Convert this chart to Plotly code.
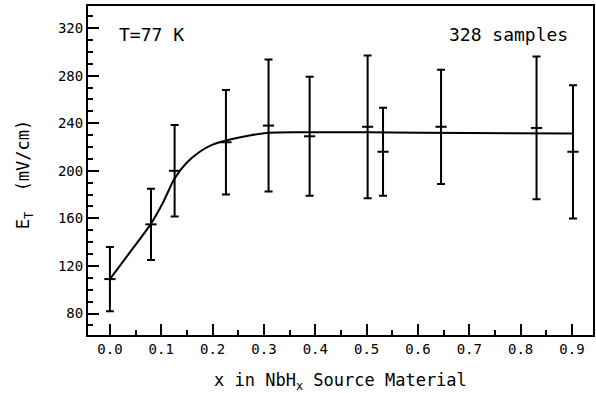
import plotly.graph_objects as go

# Measured data points (x in NbHx, E_T mean, error half-width)
x_pts = [0.0, 0.08, 0.126, 0.226, 0.309, 0.389, 0.502, 0.532, 0.645, 0.831, 0.902]
e_mean = [109, 155, 200, 224, 238, 229, 237, 216, 237, 236, 216]
e_err = [27, 30, 38.5, 44, 55.5, 50, 60, 37, 48, 60, 56]

# Fitted curve
curve_x = [0.0, 0.039, 0.079, 0.103, 0.126, 0.149, 0.175, 0.2, 0.226, 0.272, 0.31, 0.369, 0.5, 0.7, 0.9]
curve_y = [109, 131.5, 155, 173, 193.5, 206.5, 216, 222, 225.5, 229.7, 232, 232.5, 232.3, 231.8, 231.3]

x_ticks = [0.0, 0.1, 0.2, 0.3, 0.4, 0.5, 0.6, 0.7, 0.8, 0.9]
y_ticks = [80, 120, 160, 200, 240, 280, 320]

FONT = "DejaVu Sans Mono"

fig = go.Figure()
fig.add_trace(go.Scatter(x=curve_x, y=curve_y, mode="lines",
                         line=dict(color="black", width=2, shape="spline", smoothing=0.8),
                         hoverinfo="skip", showlegend=False))
fig.add_trace(go.Scatter(x=x_pts, y=e_mean, mode="markers",
                         marker=dict(symbol="line-ew", size=8, line=dict(color="black", width=2)),
                         error_y=dict(type="data", array=e_err, visible=True,
                                      color="black", thickness=2, width=4),
                         showlegend=False))

axis_common = dict(showline=True, linecolor="black", linewidth=2, mirror=True,
                   ticks="inside", tickcolor="black", tickwidth=2, ticklen=11,
                   showgrid=False, zeroline=False,
                   tickfont=dict(family=FONT, size=14, color="black"))

fig.update_xaxes(range=[-0.0427, 0.941], tickvals=x_ticks,
                 ticktext=[f"{v:.1f}" for v in x_ticks],
                 minor=dict(dtick=0.05, tick0=0, ticks="inside", ticklen=5,
                            tickwidth=2, tickcolor="black", showgrid=False),
                 **axis_common)
fig.update_yaxes(range=[62, 338.5], tickvals=y_ticks,
                 minor=dict(dtick=10, tick0=0, ticks="inside", ticklen=5,
                            tickwidth=2, tickcolor="black", showgrid=False),
                 **axis_common)

fig.add_annotation(text="x in NbH<sub>x</sub> Source Material", xref="paper", yref="paper",
                   x=0.5, y=(335 - 381) / 329, xanchor="center", yanchor="middle", showarrow=False,
                   font=dict(family=FONT, size=17, color="black"))
fig.add_annotation(text="E<sub>T</sub>  (mV/cm)", xref="paper", yref="paper",
                   x=(24 - 88) / 507, y=(335 - 174) / 329, xanchor="center", yanchor="middle",
                   textangle=-90, showarrow=False,
                   font=dict(family=FONT, size=17, color="black"))
fig.add_annotation(text="T=77 K", xref="paper", yref="paper",
                   x=(117 - 88) / 507, y=(335 - 34) / 329, xanchor="left", yanchor="middle",
                   showarrow=False, font=dict(family=FONT, size=18, color="black"))
fig.add_annotation(text="328 samples", xref="paper", yref="paper",
                   x=(572 - 88) / 507, y=(335 - 34) / 329, xanchor="right", yanchor="middle",
                   showarrow=False, font=dict(family=FONT, size=18, color="black"))

fig.update_layout(width=596, height=393, margin=dict(l=88, r=1, t=6, b=58),
                  paper_bgcolor="white", plot_bgcolor="white",
                  font=dict(family=FONT, color="black"))

fig.write_html("out.html")
